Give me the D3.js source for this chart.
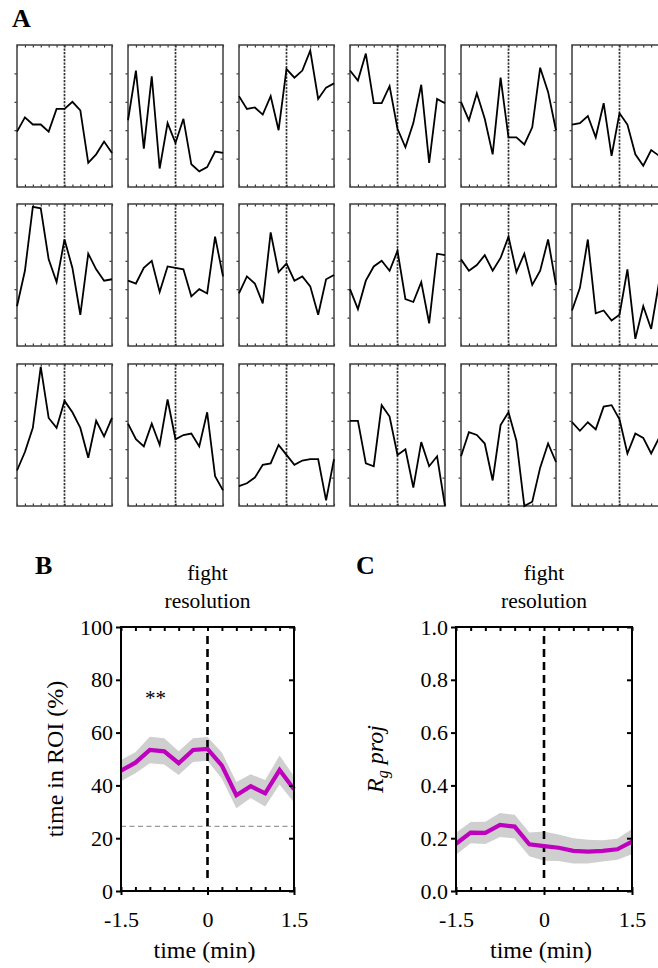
<!DOCTYPE html>
<html>
<head>
<meta charset="utf-8">
<script src="https://cdn.jsdelivr.net/npm/d3@7"></script>
<style>
  html, body { margin: 0; padding: 0; background: #fff; }
  svg { display: block; font-family: "Liberation Serif", "Times New Roman", serif; }
</style>
</head>
<body>
<svg id="chart" width="658" height="968"></svg>
<script>
// ---------- DATA ----------
const timePoints = [-1.5, -1.25, -1.0, -0.75, -0.5, -0.25, 0, 0.25, 0.5, 0.75, 1.0, 1.25, 1.5];

// Panel A: individual traces (normalised 0..1), row by row
const traceR1C1 = [0.39, 0.49, 0.44, 0.44, 0.39, 0.55, 0.55, 0.60, 0.54, 0.17, 0.23, 0.32, 0.24];
const traceR1C2 = [0.47, 0.82, 0.27, 0.78, 0.13, 0.45, 0.31, 0.48, 0.16, 0.11, 0.14, 0.25, 0.24];
const traceR1C3 = [0.64, 0.55, 0.56, 0.51, 0.64, 0.40, 0.83, 0.77, 0.82, 0.96, 0.62, 0.70, 0.73];
const traceR1C4 = [0.82, 0.75, 0.94, 0.59, 0.59, 0.71, 0.41, 0.28, 0.45, 0.72, 0.17, 0.62, 0.59];
const traceR1C5 = [0.60, 0.47, 0.66, 0.48, 0.23, 0.77, 0.35, 0.35, 0.30, 0.42, 0.84, 0.67, 0.40];
const traceR1C6 = [0.44, 0.45, 0.50, 0.35, 0.59, 0.22, 0.52, 0.44, 0.23, 0.15, 0.26, 0.22, 0.20];
const traceR2C1 = [0.28, 0.53, 0.98, 0.97, 0.61, 0.45, 0.75, 0.55, 0.22, 0.65, 0.54, 0.46, 0.47];
const traceR2C2 = [0.46, 0.44, 0.55, 0.60, 0.38, 0.56, 0.55, 0.54, 0.35, 0.40, 0.37, 0.77, 0.49];
const traceR2C3 = [0.37, 0.49, 0.44, 0.30, 0.80, 0.52, 0.58, 0.46, 0.49, 0.42, 0.22, 0.47, 0.50];
const traceR2C4 = [0.40, 0.26, 0.46, 0.56, 0.60, 0.53, 0.67, 0.33, 0.31, 0.45, 0.16, 0.65, 0.64];
const traceR2C5 = [0.61, 0.53, 0.57, 0.64, 0.53, 0.62, 0.77, 0.52, 0.65, 0.43, 0.53, 0.75, 0.43];
const traceR2C6 = [0.25, 0.41, 0.75, 0.23, 0.25, 0.18, 0.22, 0.54, 0.05, 0.28, 0.12, 0.45, 0.30];
const traceR3C1 = [0.25, 0.38, 0.55, 0.98, 0.62, 0.55, 0.74, 0.66, 0.55, 0.34, 0.60, 0.49, 0.62];
const traceR3C2 = [0.58, 0.47, 0.42, 0.58, 0.43, 0.75, 0.47, 0.50, 0.51, 0.42, 0.66, 0.21, 0.11];
const traceR3C3 = [0.14, 0.16, 0.20, 0.29, 0.30, 0.43, 0.36, 0.29, 0.32, 0.33, 0.33, 0.04, 0.33];
const traceR3C4 = [0.60, 0.60, 0.30, 0.28, 0.71, 0.63, 0.36, 0.40, 0.13, 0.45, 0.28, 0.35, 0.00];
const traceR3C5 = [0.35, 0.52, 0.50, 0.44, 0.18, 0.57, 0.66, 0.46, 0.00, 0.03, 0.27, 0.44, 0.31];
const traceR3C6 = [0.59, 0.53, 0.59, 0.54, 0.70, 0.71, 0.61, 0.37, 0.51, 0.48, 0.37, 0.48, 0.50];

const tracesA = [
  [traceR1C1, traceR1C2, traceR1C3, traceR1C4, traceR1C5, traceR1C6],
  [traceR2C1, traceR2C2, traceR2C3, traceR2C4, traceR2C5, traceR2C6],
  [traceR3C1, traceR3C2, traceR3C3, traceR3C4, traceR3C5, traceR3C6]
];

// Panel B: time in ROI (%)
const roiMean = [45.6, 48.6, 53.4, 52.9, 48.4, 53.4, 53.8, 47.5, 36.3, 39.7, 37.0, 45.8, 38.5];
const roiSem  = [4.0, 4.0, 5.0, 5.0, 4.5, 4.5, 4.5, 5.0, 5.0, 4.5, 5.0, 5.5, 5.0];
const roiChance = 24.5;
const roiTicks = [0, 20, 40, 60, 80, 100];

// Panel C: Rg proj
const rgMean = [0.179, 0.221, 0.220, 0.250, 0.244, 0.177, 0.170, 0.164, 0.152, 0.149, 0.152, 0.158, 0.187];
const rgSem  = [0.042, 0.040, 0.042, 0.045, 0.045, 0.045, 0.055, 0.050, 0.048, 0.045, 0.040, 0.040, 0.048];
const rgTicks = [0, 0.2, 0.4, 0.6, 0.8, 1.0];

const xMajorTicks = [-1.5, 0, 1.5];
const xMajorLabels = ["-1.5", "0", "1.5"];
const smallYTicks = [0.2, 0.4, 0.6, 0.8];

// ---------- DRAW ----------
const svg = d3.select("#chart");
const MAGENTA = "#bf00bf";
const BAND = "#cfcfcf";

// Panel A
svg.append("text").attr("x", 12).attr("y", 27)
  .attr("font-size", 26).attr("font-weight", "bold").text("A");

const colLeft = [17, 128, 239, 350, 461, 572];
const rowTop = [45, 204, 364];
const pw = 95, ph = 142;

tracesA.forEach((row, ri) => {
  row.forEach((vals, ci) => {
    const x0 = colLeft[ci], y0 = rowTop[ri];
    const xs = d3.scaleLinear().domain([-1.5, 1.5]).range([x0, x0 + pw]);
    const ys = d3.scaleLinear().domain([0, 1]).range([y0 + ph, y0]);
    const g = svg.append("g");
    const tickStyle = a => {
      a.select(".domain").remove();
      a.selectAll("line").attr("stroke", "#222").attr("stroke-width", 1.1);
    };
    g.append("g").attr("transform", `translate(0,${y0})`)
      .call(d3.axisBottom(xs).tickValues(timePoints).tickSize(2.5).tickFormat("").tickSizeOuter(0))
      .call(tickStyle);
    g.append("g").attr("transform", `translate(0,${y0 + ph})`)
      .call(d3.axisTop(xs).tickValues(timePoints).tickSize(2.5).tickFormat("").tickSizeOuter(0))
      .call(tickStyle);
    g.append("g").attr("transform", `translate(${x0},0)`)
      .call(d3.axisLeft(ys).tickValues(smallYTicks).tickSize(2.5).tickFormat("").tickSizeOuter(0))
      .call(tickStyle);
    g.append("g").attr("transform", `translate(${x0 + pw},0)`)
      .call(d3.axisLeft(ys).tickValues(smallYTicks).tickSize(2.5).tickFormat("").tickSizeOuter(0))
      .call(tickStyle);
    // frame
    g.append("rect").attr("x", x0).attr("y", y0).attr("width", pw).attr("height", ph)
      .attr("fill", "none").attr("stroke", "#4a4a4a").attr("stroke-width", 1.6);
    // dashed zero line
    g.append("line").attr("x1", xs(0)).attr("x2", xs(0)).attr("y1", y0).attr("y2", y0 + ph)
      .attr("stroke", "#333").attr("stroke-width", 1.7).attr("stroke-dasharray", "2.2,1.3");
    // trace
    g.append("path").datum(vals)
      .attr("d", d3.line().x((d, i) => xs(timePoints[i])).y(d => ys(d)))
      .attr("fill", "none").attr("stroke", "#000").attr("stroke-width", 1.8)
      .attr("stroke-linejoin", "miter");
  });
});

// Panels B and C
function summaryPanel(opts) {
  const { left, right, top, bottom, yDomain, yTicks, yFmt, mean, sem, letter, letterX } = opts;
  const xs = d3.scaleLinear().domain([-1.5, 1.5]).range([left, right]);
  const ys = d3.scaleLinear().domain(yDomain).range([bottom, top]);
  const g = svg.append("g");

  g.append("text").attr("x", letterX).attr("y", 574)
    .attr("font-size", 26).attr("font-weight", "bold").text(letter);

  // title
  const t = g.append("text").attr("x", xs(0)).attr("text-anchor", "middle").attr("font-size", 21.5);
  t.append("tspan").attr("x", xs(0)).attr("y", 580).text("fight");
  t.append("tspan").attr("x", xs(0)).attr("y", 608).text("resolution");

  // band
  g.append("path").datum(mean)
    .attr("d", d3.area()
      .x((d, i) => xs(timePoints[i]))
      .y0((d, i) => ys(d - sem[i]))
      .y1((d, i) => ys(d + sem[i])))
    .attr("fill", BAND);

  if (opts.chance !== undefined) {
    g.append("line").attr("x1", left).attr("x2", right)
      .attr("y1", ys(opts.chance)).attr("y2", ys(opts.chance))
      .attr("stroke", "#999").attr("stroke-width", 1.3).attr("stroke-dasharray", "5,3.5");
  }

  // zero dashed line
  g.append("line").attr("x1", xs(0)).attr("x2", xs(0))
    .attr("y1", top + 9).attr("y2", bottom - 8)
    .attr("stroke", "#000").attr("stroke-width", 2.6).attr("stroke-dasharray", "8,5");

  // mean line
  g.append("path").datum(mean)
    .attr("d", d3.line().x((d, i) => xs(timePoints[i])).y(d => ys(d)))
    .attr("fill", "none").attr("stroke", MAGENTA).attr("stroke-width", 4.2)
    .attr("stroke-linejoin", "miter");

  // axes
  const styleAxis = a => {
    a.select(".domain").remove();
    a.selectAll("line").attr("stroke", "#000").attr("stroke-width", 2);
    a.selectAll("text").attr("font-family", "Liberation Serif").attr("font-size", 22).attr("fill", "#000");
  };
  g.append("g").attr("transform", `translate(${left},0)`)
    .call(d3.axisLeft(ys).tickValues(yTicks).tickFormat(yFmt).tickSize(5).tickPadding(3).tickSizeOuter(0))
    .call(styleAxis);
  g.append("g").attr("transform", `translate(${right},0)`)
    .call(d3.axisLeft(ys).tickValues(yTicks).tickFormat("").tickSize(5).tickSizeOuter(0))
    .call(styleAxis);
  g.append("g").attr("transform", `translate(0,${top})`)
    .call(d3.axisBottom(xs).tickValues(timePoints).tickFormat("").tickSize(4).tickSizeOuter(0))
    .call(styleAxis);
  g.append("g").attr("transform", `translate(0,${bottom})`)
    .call(d3.axisTop(xs).tickValues(timePoints).tickFormat("").tickSize(4).tickSizeOuter(0))
    .call(styleAxis);
  g.append("g").attr("transform", `translate(0,${bottom})`)
    .call(d3.axisBottom(xs).tickValues(xMajorTicks).tickFormat((d, i) => xMajorLabels[i]).tickSize(4).tickPadding(16).tickSizeOuter(0))
    .call(styleAxis);

  // frame
  g.append("rect").attr("x", left).attr("y", top).attr("width", right - left).attr("height", bottom - top)
    .attr("fill", "none").attr("stroke", "#000").attr("stroke-width", 2);

  // x label
  g.append("text").attr("x", xs(0) - 3).attr("y", 958).attr("text-anchor", "middle")
    .attr("font-size", 24).text("time (min)");
  return { xs, ys, g };
}

const B = summaryPanel({
  left: 121, right: 294, top: 627, bottom: 891,
  yDomain: [0, 100], yTicks: roiTicks, yFmt: d3.format("d"),
  mean: roiMean, sem: roiSem, chance: roiChance, letter: "B", letterX: 35
});
B.g.append("text").attr("transform", `translate(63,${(627 + 891) / 2}) rotate(-90)`)
  .attr("text-anchor", "middle").attr("font-size", 24).text("time in ROI (%)");
B.g.append("text").attr("x", B.xs(-0.9)).attr("y", 705).attr("text-anchor", "middle")
  .attr("font-size", 21).text("**");

const C = summaryPanel({
  left: 456, right: 632, top: 627, bottom: 891,
  yDomain: [0, 1], yTicks: rgTicks, yFmt: d3.format(".1f"),
  mean: rgMean, sem: rgSem, letter: "C", letterX: 356
});
const yl = C.g.append("text").attr("transform", `translate(383,${(627 + 891) / 2}) rotate(-90)`)
  .attr("text-anchor", "middle").attr("font-size", 24).attr("font-style", "italic");
yl.append("tspan").text("R");
yl.append("tspan").attr("font-size", 16).attr("dy", 5).text("g");
yl.append("tspan").attr("dy", -5).text("\u00a0proj");
</script>
</body>
</html>
